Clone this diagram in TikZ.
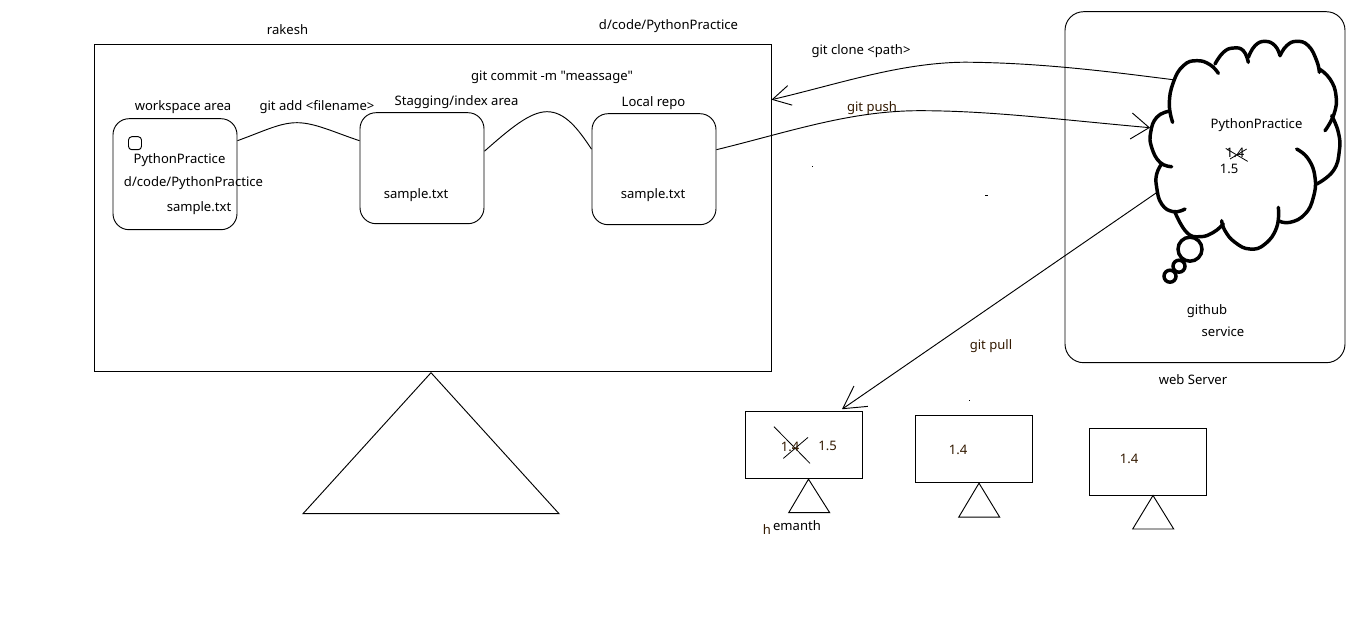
\documentclass[tikz,border=0pt]{standalone}
\usepackage{fontspec}
\setmainfont{Noto Sans}[Ligatures=TeXOff]
\usetikzlibrary{calc, arrows.meta}
\definecolor{brownink}{RGB}{50,25,0}
\tikzset{
    lbl/.style={inner sep=0pt, font=\fontsize{9.8pt}{11pt}\selectfont},
    brownlbl/.style={lbl, text=brownink},
    repobox/.style={draw, rounded corners=12pt, minimum width=93pt, minimum height=83.25pt, inner sep=0pt},
    pcbox/.style={draw, minimum width=87.75pt, minimum height=50.25pt, inner sep=0pt},
    cloudline/.style={line width=2.6pt, line cap=round},
}
\begin{document}
\begin{tikzpicture}[x=0.75pt, y=-0.75pt, line width=0.7pt]
        \useasboundingbox (0,-0.7) rectangle (1360,622.3);

        % Draw the big machine and the server
        \node[draw, minimum width=507.75pt, minimum height=245.25pt, inner sep=0pt] (laptop) at (432.5,207.5) {};
        \draw (431,372) -- (303,513) -- (559,513) -- cycle;
        \node[draw, rounded corners=14pt, minimum width=210pt, minimum height=263.25pt, inner sep=0pt] (server) at (1205,186.5) {};

        % Draw the three areas
        \node[repobox] (workspace) at (175,173.5) {};
        \node[repobox] (stage) at (422,167.5) {};
        \node[repobox] (local) at (654,168.5) {};
        \node[draw, rounded corners=2.5pt, minimum width=9.75pt, minimum height=9.75pt, inner sep=0pt] (folder) at (135,142.5) {};

        % Draw the cloud
        \begin{scope}[shift={(1060,0)}, x=0.25pt, y=-0.25pt, cloudline]
        \draw plot[smooth, tension=0.8] coordinates {(338,365) (328,310) (340,245) (370,195) (410,180) (450,192) (475,218)};
        \draw plot[smooth, tension=0.8] coordinates {(465,190) (490,155) (520,142) (550,150) (565,185)};
        \draw plot[smooth, tension=0.8] coordinates {(565,170) (585,135) (615,122) (645,135) (660,165)};
        \draw plot[smooth, tension=0.8] coordinates {(660,165) (680,135) (710,122) (745,135) (770,180) (778,215)};
        \draw plot[smooth, tension=0.8] coordinates {(778,205) (810,235) (828,285) (822,340) (795,390)};
        \draw plot[smooth, tension=0.8] coordinates {(815,345) (835,395) (838,450) (820,510) (770,550)};
        \draw plot[smooth, tension=0.8] coordinates {(710,445) (745,475) (765,530) (760,590) (735,640) (690,665) (655,660)};
        \draw plot[smooth, tension=0.8] coordinates {(655,620) (650,680) (615,730) (570,745) (525,725) (495,690) (485,660)};
        \draw plot[smooth, tension=0.8] coordinates {(490,670) (460,695) (420,708) (380,695) (345,635)};
        \draw plot[smooth, tension=0.8] coordinates {(375,625) (340,633) (305,610) (290,560) (290,520) (305,490)};
        \draw plot[smooth, tension=0.8] coordinates {(335,498) (300,485) (275,440) (272,395) (290,350) (325,332)};
        \end{scope}
        \draw[cloudline] (1190,248.5) circle (12);
        \draw[cloudline] (1179,265.5) circle (6);
        \draw[cloudline] (1170,275.5) circle (6);
        \coordinate (cloudclone) at (1173,79);
        \coordinate (cloudpush) at (1150,127);
        \coordinate (cloudpull) at (1156.5,192);

        % Draw the lines between the areas
        \draw ($(workspace.east)+(0,-33.5)$) .. controls (265,130) and (280,122) .. (297,122) .. controls (315,122) and (335,132) .. ($(stage.west)+(0,-27.5)$);
        \draw ($(stage.east)+(0,-17)$) .. controls (510,128) and (530,111) .. (547,111) .. controls (565,111) and (578,128) .. ($(local.west)+(0,-20)$);

        % Draw the arrows to the server and back
        \draw[-{Straight Barb[length=13.5pt, width=15pt]}] (cloudclone) .. controls (1110,71) and (1040,62) .. (965,61.5) .. controls (900,62) and (840,83) .. ($(laptop.east)+(0,-108.5)$);
        \draw[-{Straight Barb[length=13.5pt, width=19.5pt]}] ($(local.east)+(0,-19.5)$) .. controls (790,131) and (850,110) .. (920,110) .. controls (990,110) and (1060,119) .. (cloudpush);

        % Draw the three small machines
        \node[pcbox] (pcone) at (803.5,444.5) {};
        \node[pcbox] (pctwo) at (974,448.5) {};
        \node[pcbox] (pcthree) at (1148,460.8) {};
        \draw (pcone.south) ++(5,0) -- (788.7,512) -- (829.7,512) -- cycle;
        \draw (pctwo.south) ++(5,0) -- (958.7,516.5) -- (999.7,516.5) -- cycle;
        \draw (pcthree.south) ++(5,0) -- (1132.7,528.3) -- (1173.7,528.3) -- cycle;
        \draw[-{Straight Barb[length=16.5pt, width=18.5pt]}] (cloudpull) -- ($(pcone.north)+(38.5,-2)$);

        % Cross out the old versions
        \draw[line width=0.6pt] (1225.7,147.7) -- (1247.7,160.7);
        \draw[line width=0.6pt] (1230,158.3) -- (1246.7,148.3);
        \draw[line width=0.6pt] (774,426) -- (810,462.7);
        \draw[line width=0.6pt] (783.3,457.7) -- (808,436.7);

        % Label the machines
        \node[lbl] (rakesh) at (287.5,29) {rakesh};
        \node[lbl] (toppath) at (668.5,25.5) {d/code/PythonPractice};
        \node[lbl] (workspacelbl) at (183,106) {workspace area};
        \node[lbl] (addlbl) at (317,106) {git add <filename>};
        \node[lbl] (stagelbl) at (456.5,101) {Stagging/index area};
        \node[lbl] (commitlbl) at (552,77) {git commit -m "meassage"};
        \node[lbl] (locallbl) at (653.5,102.5) {Local repo};
        \node[lbl] (workname) at (179.5,159) {PythonPractice};
        \node[lbl] (workpath) at (193.5,182) {d/code/PythonPractice};
        \node[lbl] (worktxt) at (199,207) {sample.txt};
        \node[lbl] (stagetxt) at (416,194) {sample.txt};
        \node[lbl] (localtxt) at (653,194) {sample.txt};

        % Label the server
        \node[lbl] (clonelbl) at (861,50) {git clone <path>};
        \node[brownlbl] (pushlbl) at (872,107) {git push};
        \node[brownlbl] (pulllbl) at (991,345) {git pull};
        \node[lbl] (cloudname) at (1256.5,124) {PythonPractice};
        \node[lbl] (cloudold) at (1235,152) {1.4};
        \node[lbl] (cloudnew) at (1229,168) {1.5};
        \node[lbl] (githublbl) at (1207,310) {github};
        \node[lbl] (servicelbl) at (1223,331) {service};
        \node[lbl] (webserver) at (1193,379) {web Server};

        % Label the small machines
        \node[brownlbl] (oneold) at (790,446) {1.4};
        \node[brownlbl] (onenew) at (827.5,445) {1.5};
        \node[brownlbl] (hlbl) at (767,529) {h};
        \node[lbl] (emanth) at (797,525) {emanth};
        \node[brownlbl] (twolbl) at (958,449.5) {1.4};
        \node[brownlbl] (threelbl) at (1129,458.5) {1.4};

        % Stray dots
        \fill (811.5,165) rectangle (813,166.5);
        \fill (985,194.5) rectangle (988,195.5);
        \fill (968.5,399) rectangle (970,400.5);
\end{tikzpicture}
\end{document}
